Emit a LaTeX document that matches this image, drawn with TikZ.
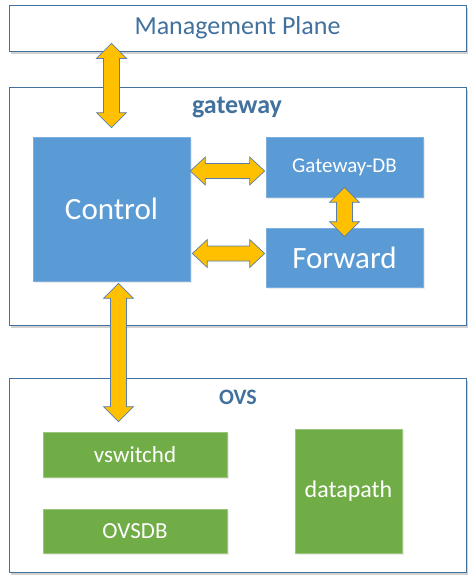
\documentclass[tikz,border=0pt]{standalone}
\usepackage{fontspec}
\setmainfont{Carlito}
\usetikzlibrary{calc,shadows}

\definecolor{frameblue}{HTML}{41719C}
\definecolor{boxblue}{HTML}{5B9BD5}
\definecolor{boxgreen}{HTML}{70AD47}
\definecolor{arrowgold}{HTML}{FFC000}
\definecolor{arrowline}{HTML}{5A7EAB}

% fat double arrows, vertical (top tip, bottom tip) and horizontal (left tip, right tip)
\newcommand{\vdarrow}[2]{%
  \draw[fatarrow] (#1) -- ++(-15,15) -- ++(7,0) -- ($(#2)+(-8,-15)$) -- ++(-7,0) -- (#2)
    -- ++(15,-15) -- ++(-7,0) -- ($(#1)+(8,15)$) -- ++(7,0) -- cycle;}
\newcommand{\hdarrow}[2]{%
  \draw[fatarrow] (#1) -- ++(15,-14) -- ++(0,6.5) -- ($(#2)+(-15,-7.5)$) -- ++(0,-6.5) -- (#2)
    -- ++(-15,14) -- ++(0,-6.5) -- ($(#1)+(15,7.5)$) -- ++(0,6.5) -- cycle;}

\begin{document}
\begin{tikzpicture}[x=1pt,y=-1pt,
        frame/.style={draw=frameblue,line width=0.8pt,fill=white,inner sep=0pt,
            drop shadow={shadow xshift=2pt,shadow yshift=-3pt,opacity=.3,fill=black!60}},
        bluebox/.style={fill=boxblue,draw=boxblue!80!white,line width=0.6pt,text=white,inner sep=0pt,
            drop shadow={shadow xshift=1.5pt,shadow yshift=-1.5pt,opacity=.15,fill=black!50}},
        greenbox/.style={fill=boxgreen,draw=boxgreen!70!white,line width=0.6pt,text=white,inner sep=0pt,
            drop shadow={shadow xshift=1.5pt,shadow yshift=-1.5pt,opacity=.15,fill=black!50}},
        title/.style={text=frameblue,inner sep=0pt},
        fatarrow/.style={fill=arrowgold,draw=arrowline,line width=0.7pt,line join=miter}
    ]
        \useasboundingbox (0,0) rectangle (469,582);

        % Define the frames
        \node[frame,minimum width=457pt,minimum height=46pt,title,
            font=\fontsize{26}{30}\selectfont] (mgmt) at (237.5,28) {Management Plane};
        \node[frame,minimum width=457pt,minimum height=238pt] (gw) at (237.5,206) {};
        \node[frame,minimum width=457pt,minimum height=194pt] (ovs) at (237.5,475) {};
        \node[title,font=\fontsize{26}{30}\selectfont\bfseries] (gwlabel) at (237,107) {gateway};
        \node[title,font=\fontsize{22}{26}\selectfont\bfseries] (ovslabel) at (238,397) {OVS};

        % Define the boxes
        \node[bluebox,minimum width=157pt,minimum height=144pt,
            font=\fontsize{31}{36}\selectfont] (ctrl) at (111.5,209) {Control};
        \node[bluebox,minimum width=157pt,minimum height=60pt,
            font=\fontsize{21}{25}\selectfont] (gdb) at (344.5,167) {Gateway-DB};
        \node[bluebox,minimum width=157pt,minimum height=59pt,
            font=\fontsize{31}{36}\selectfont] (fwd) at (344.5,257.5) {Forward};
        \node[greenbox,minimum width=184pt,minimum height=45pt,
            font=\fontsize{23}{27}\selectfont] (vsw) at (135,454.5) {vswitchd};
        \node[greenbox,minimum width=184pt,minimum height=44pt,
            font=\fontsize{23}{27}\selectfont] (ovsdb) at (135,531) {OVSDB};
        \node[greenbox,minimum width=107pt,minimum height=124pt,
            font=\fontsize{24}{28}\selectfont] (dp) at (348.5,491) {datapath};

        % Draw the double arrows
        \vdarrow{$(ctrl.north |- mgmt.south)+(0,-8)$}{$(ctrl.north)+(0,-9)$}
        \hdarrow{$(ctrl.east |- gdb.west)+(0,4)$}{$(gdb.west)+(-1,4)$}
        \hdarrow{$(ctrl.east |- fwd.west)+(2,-4)$}{$(fwd.west)+(-1,-4)$}
        \vdarrow{$(gdb.south)+(0,-10)$}{$(fwd.north)+(0,9)$}
        \vdarrow{$(ctrl.south)+(7,2)$}{$(ctrl.south |- vsw.north)+(7,-10)$}
    \end{tikzpicture}
\end{document}
